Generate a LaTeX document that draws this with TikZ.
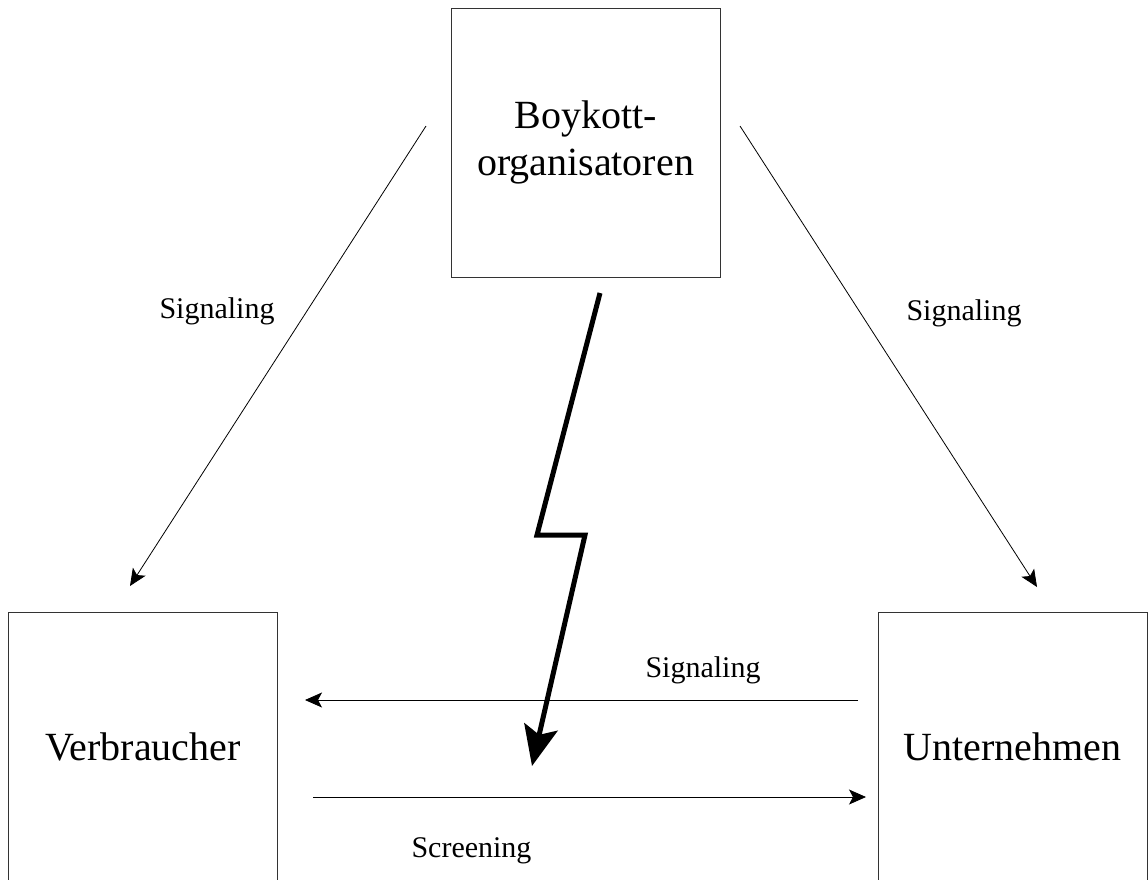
\documentclass[tikz,border=0pt]{standalone}
\usepackage{fontspec}
\setmainfont{Liberation Serif}
\usetikzlibrary{arrows.meta}
\begin{document}
\begin{tikzpicture}[x=1pt,y=-1pt,
  box/.style={draw=black!80,line width=0.9pt,minimum width=269pt,minimum height=269pt,inner sep=0pt,align=center,font=\fontsize{40}{47}\selectfont},
  lbl/.style={font=\fontsize{30}{36}\selectfont,inner sep=0pt},
  thin/.style={line width=0.8pt,-{Stealth[length=17pt,width=15pt,inset=4pt]}},
  bolt/.style={line width=5pt,line join=miter,-{Stealth[length=40pt,width=34pt,inset=8pt]}}]
\clip (0,0) rectangle (1148,879);
\fill[white] (0,0) rectangle (1148,879);
\node[box] (boy) at (585.5,142.5) {Boykott-\\organisatoren};
\node[box] (ver) at (143,747) {Verbraucher};
\node[box] (unt) at (1012.5,747) {Unternehmen};
\coordinate (a1) at (426,126);
\coordinate (a2) at (130,586);
\coordinate (b1) at (740,126);
\coordinate (b2) at (1037,587);
\coordinate (c1) at (858,700);
\coordinate (c2) at (305,700);
\coordinate (d1) at (313,797);
\coordinate (d2) at (866,797);
\coordinate (z1) at (600,293);
\coordinate (z2) at (537,535);
\coordinate (z3) at (585,535);
\coordinate (z4) at (532,766);
\draw[thin] (a1) -- (a2);
\draw[thin] (b1) -- (b2);
\draw[thin] (c1) -- (c2);
\draw[thin] (d1) -- (d2);
\draw[bolt] (z1) -- (z2) -- (z3) -- (z4);
\node[lbl] (s1) at (217,311) {Signaling};
\node[lbl] (s2) at (964,313) {Signaling};
\node[lbl] (s3) at (703,670) {Signaling};
\node[lbl] (s4) at (471.5,851) {Screening};
\end{tikzpicture}
\end{document}
